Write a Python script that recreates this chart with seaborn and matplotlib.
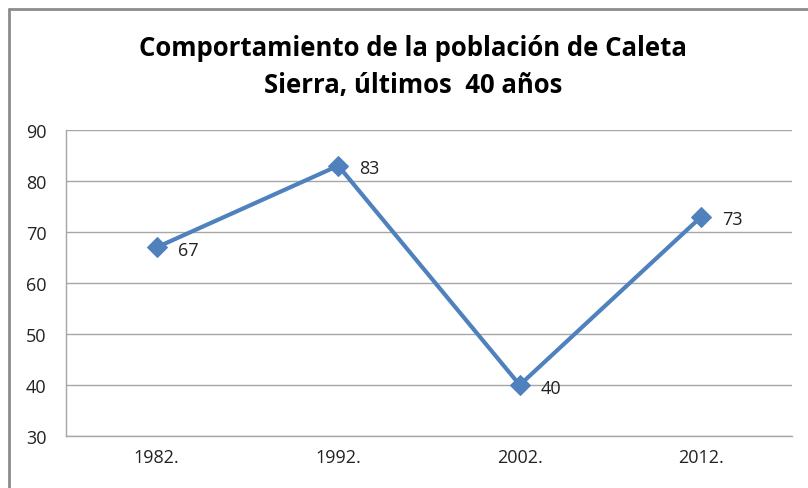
import matplotlib
matplotlib.use("Agg")
import matplotlib.pyplot as plt
import seaborn as sns
import pandas as pd
from matplotlib.lines import Line2D

years = ["1982.", "1992.", "2002.", "2012."]
population = [67, 83, 40, 73]
title = "Comportamiento de la población de Caleta\nSierra, últimos  40 años"

sns.set_style("white")
plt.rcParams['font.family'] = ['Open Sans', 'DejaVu Sans']

df = pd.DataFrame({'year': years, 'value': population})

fig = plt.figure(figsize=(8.08, 4.89), dpi=100)
ax = fig.add_axes([66/808, 1-437/489, (792-66)/808, (437-131)/489])

sns.lineplot(data=df, x='year', y='value', ax=ax, sort=False,
             color='#4F81BD', linewidth=3, marker='D', markersize=10,
             markeredgecolor='#4F81BD')

for i, v in enumerate(population):
    ax.annotate(str(v), (i, v), xytext=(15, -2), textcoords='offset points',
                ha='left', va='center', fontsize=13, color='#222222')

ax.set_xlim(-0.5, 3.5)
ax.set_ylim(30, 90)
ax.set_yticks(range(30, 91, 10))
ax.set_xlabel('')
ax.set_ylabel('')
ax.grid(axis='y', color='#A6A6A6', linewidth=1)
ax.set_axisbelow(True)
for s in ['top', 'right']:
    ax.spines[s].set_visible(False)
for s in ['left', 'bottom']:
    ax.spines[s].set_color('#A6A6A6')
    ax.spines[s].set_linewidth(1)
ax.tick_params(axis='both', length=0, labelsize=13, colors='#222222')
ax.tick_params(axis='y', pad=14)
ax.tick_params(axis='x', pad=9)

fig.text(413/808, 1-67/489, title, ha='center', va='center',
         fontsize=18.5, fontweight='bold', linespacing=1.5, color='black')

# chart border (left and top edges visible)
fig.add_artist(Line2D([9/808, 9/808], [0, 1-10/489], transform=fig.transFigure,
                      color='#8C8C8C', linewidth=2))
fig.add_artist(Line2D([9/808, 1], [1-10/489, 1-10/489], transform=fig.transFigure,
                      color='#8C8C8C', linewidth=2))

fig.savefig('out.png', dpi=100)
